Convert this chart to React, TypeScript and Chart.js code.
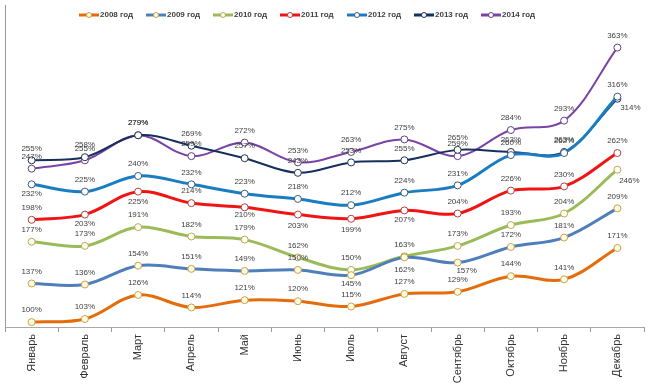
import React, { useEffect, useRef } from "react";
import { Chart, registerables } from "chart.js";

Chart.register(...registerables);

const categories = ["Январь", "Февраль", "Март", "Апрель", "Май", "Июнь", "Июль", "Август", "Сентябрь", "Октябрь", "Ноябрь", "Декабрь"];
const seriesNames = ["2008 год", "2009 год", "2010 год", "2011 год", "2012 год", "2013 год", "2014 год"];
const s2008 = [100, 103, 126, 114, 121, 120, 115, 127, 129, 144, 141, 171];
const s2009 = [137, 136, 154, 151, 149, 150, 145, 162, 157, 172, 181, 209];
const s2010 = [177, 173, 191, 182, 179, 162, 150, 163, 173, 193, 204, 246];
const s2011 = [198, 203, 225, 214, 210, 203, 199, 207, 204, 226, 230, 262];
const s2012 = [232, 225, 240, 232, 223, 218, 212, 224, 231, 260, 262, 316];
const s2013 = [255, 258, 279, 269, 257, 243, 253, 255, 265, 263, 263, 314];
const s2014 = [247, 255, 279, 259, 272, 253, 263, 275, 259, 284, 293, 363];

const seriesData = [s2008, s2009, s2010, s2011, s2012, s2013, s2014];
const lineColors = ["#E46C0A", "#4F7FBA", "#9BBB59", "#F01414", "#1A7DC2", "#172F5C", "#7A43A8"];
const lineWidths = [3, 3, 3, 3, 3, 2, 2];
const markerBorders = ["#C9A24A", "#C9A24A", "#B8A860", "#B04040", "#3C5A80", "#1F3050", "#604080"];
const markerFills = ["#FFFBE0", "#FFFBE0", "#FFFDEB", "#FFFFFF", "#FFFFFF", "#FFFFFF", "#FFFFFF"];

// label placement overrides (dx, dy) per series index / point index
const labelOffsets: Record<number, Record<number, [number, number]>> = {
  1: { 6: [0, 9], 7: [0, 12], 8: [9, 8] },
  2: { 11: [12, 11] },
  3: { 1: [0, 9], 2: [0, 10], 4: [0, 8], 5: [0, 11], 6: [0, 11], 7: [0, 9] },
  4: { 0: [0, 9] },
  5: { 11: [13, 9] },
};

const FONT = "'Liberation Sans', Arial, sans-serif";

const labelsPlugin = {
  id: "dataLabels",
  afterDatasetsDraw(chart: any) {
    const ctx = chart.ctx;
    ctx.save();
    ctx.font = `8px ${FONT}`;
    ctx.fillStyle = "#404040";
    ctx.textAlign = "center";
    ctx.textBaseline = "middle";
    chart.data.datasets.forEach((ds: any, di: number) => {
      const meta = chart.getDatasetMeta(di);
      meta.data.forEach((pt: any, i: number) => {
        const off = (labelOffsets[di] && labelOffsets[di][i]) || [0, -12];
        ctx.fillText(ds.data[i] + "%", pt.x + off[0], pt.y + off[1]);
      });
    });
    ctx.restore();
  },
};

const legendPlugin = {
  id: "customLegend",
  afterDraw(chart: any) {
    const ctx = chart.ctx;
    ctx.save();
    const y = 15;
    seriesNames.forEach((name, i) => {
      const x0 = 79 + i * 67;
      ctx.strokeStyle = lineColors[i];
      ctx.lineWidth = 3;
      ctx.beginPath();
      ctx.moveTo(x0, y);
      ctx.lineTo(x0 + 20, y);
      ctx.stroke();
      ctx.beginPath();
      ctx.arc(x0 + 10, y, 2.5, 0, Math.PI * 2);
      ctx.fillStyle = markerFills[i];
      ctx.fill();
      ctx.lineWidth = 1;
      ctx.strokeStyle = markerBorders[i];
      ctx.stroke();
      ctx.font = `bold 8px ${FONT}`;
      ctx.fillStyle = "#404040";
      ctx.textAlign = "left";
      ctx.textBaseline = "middle";
      ctx.fillText(name, x0 + 21, y);
    });
    ctx.restore();
  },
};

export default function App() {
  const ref = useRef<HTMLCanvasElement>(null);
  useEffect(() => {
    if (!ref.current) return;
    const chart = new Chart(ref.current, {
      type: "line",
      data: {
        labels: categories,
        datasets: seriesNames.map((name, i) => ({
          label: name,
          data: seriesData[i],
          borderColor: lineColors[i],
          backgroundColor: lineColors[i],
          borderWidth: lineWidths[i],
          tension: 0.35,
          pointRadius: 3.5,
          pointBorderWidth: 1,
          pointBackgroundColor: markerFills[i],
          pointBorderColor: markerBorders[i],
          fill: false,
        })),
      },
      options: {
        responsive: false,
        animation: false,
        layout: { padding: { left: 4, right: 20, top: 0, bottom: 0 } },
        plugins: { legend: { display: false }, tooltip: { enabled: false } },
        scales: {
          x: {
            type: "category",
            offset: true,
            afterFit: (s: any) => {
              s.height = 64;
            },
            grid: { display: true, drawOnChartArea: false, drawTicks: true, tickLength: 5, color: "#9A9A9A", offset: true },
            border: { display: true, color: "#A8A8A8", width: 1 },
            ticks: {
              minRotation: 90,
              maxRotation: 90,
              autoSkip: false,
              padding: 2,
              color: "#333333",
              font: { family: FONT, size: 11 },
            },
          },
          y: {
            type: "linear",
            min: 95.3,
            max: 403.8,
            afterFit: (s: any) => {
              s.width = 0;
            },
            grid: { display: false },
            border: { display: true, color: "#9A9A9A", width: 1 },
            ticks: { display: false },
          },
        },
      },
      plugins: [labelsPlugin, legendPlugin],
    });
    return () => chart.destroy();
  }, []);
  return (
    <div style={{ position: "absolute", left: 0, top: 0, width: 664, height: 391, background: "#fff" }}>
      <canvas ref={ref} width={664} height={391} style={{ width: 664, height: 391, display: "block" }} />
    </div>
  );
}
